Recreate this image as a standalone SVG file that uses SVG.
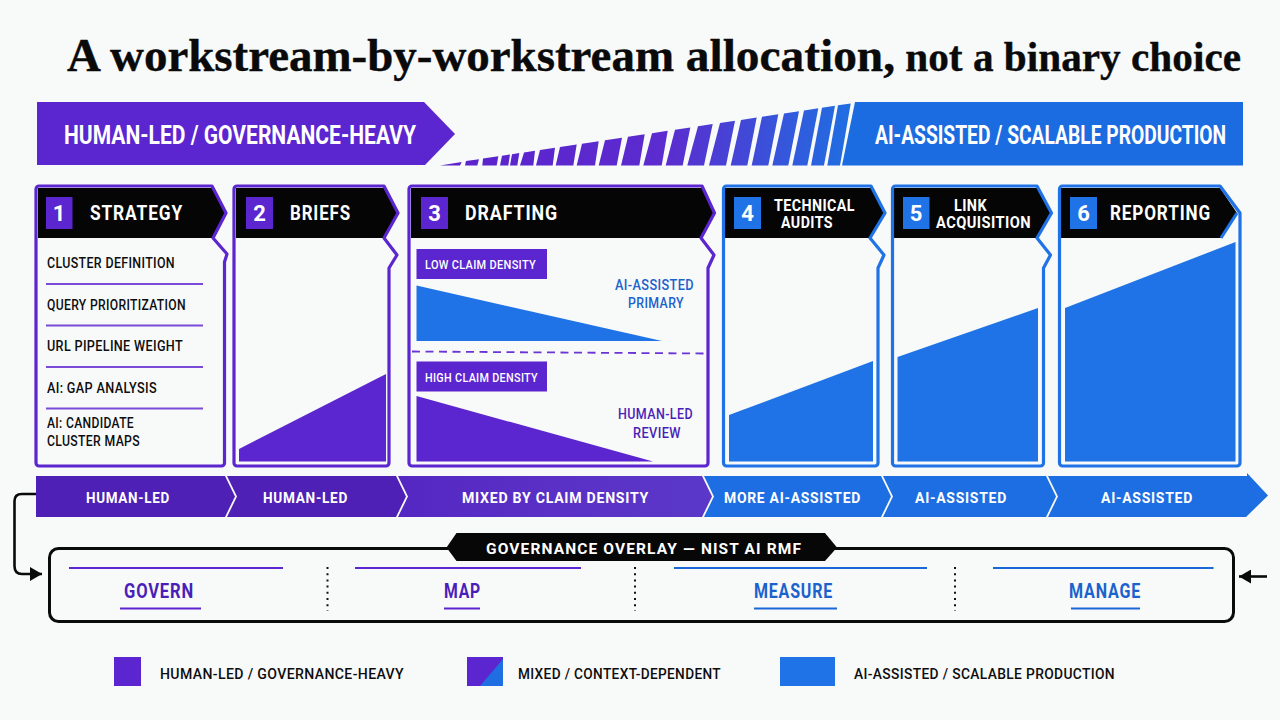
<svg xmlns="http://www.w3.org/2000/svg" width="1280" height="720" viewBox="0 0 1280 720">
<style>
text{font-family:Roboto,"Liberation Sans",sans-serif;font-weight:700}
.title{font-family:"Liberation Serif",serif;font-size:47px;fill:#0a0a0a;stroke:#0a0a0a;stroke-width:.4}
.ban{font-size:25px;fill:#fff}
.num{font-size:22px;fill:#fff;text-anchor:middle}
.hd{font-size:20px;fill:#fff;letter-spacing:1px}
.hd2{font-size:16.5px;fill:#fff;letter-spacing:.5px}
.item{font-size:14.5px;fill:#0d0d0d;font-weight:500;letter-spacing:.4px}
.tag{font-size:13.5px;fill:#fff;font-weight:500;letter-spacing:.4px}
.side{font-size:15.5px;font-weight:500;letter-spacing:.5px}
.st{font-size:15.5px;fill:#fff;letter-spacing:.8px}
.ov{font-size:15.5px;fill:#fff}
.fn{font-size:20px;letter-spacing:1px}
.lg{font-size:15.5px;fill:#0d0d0d;font-weight:500;letter-spacing:.4px}
.p{fill:#5b25cf}.b{fill:#1f73e6}
.pt{fill:#4a1fb8}.bt{fill:#1a62cc}
.cp{fill:none;stroke:#5b25cf;stroke-width:3.2;stroke-linejoin:round}
.cb{fill:none;stroke:#1f73e6;stroke-width:3.2;stroke-linejoin:round}
.head{fill:#050505}
.div{stroke:#7a4bd8;stroke-width:1.8}
.lp{stroke:#5b25cf;stroke-width:2.2}
.lb{stroke:#1a68d8;stroke-width:2.2}
.dot{stroke:#111;stroke-width:2;stroke-dasharray:2 4.2}
.conn{fill:none;stroke:#0a0a0a;stroke-width:2.6;stroke-linejoin:round}
</style>
<defs>
<linearGradient id="ramp" gradientUnits="userSpaceOnUse" x1="440" y1="0" x2="852" y2="0"><stop offset="0" stop-color="#5b22cc"/><stop offset=".55" stop-color="#5b2ccf"/><stop offset="1" stop-color="#1f6fe2"/></linearGradient>
<linearGradient id="mix" gradientUnits="userSpaceOnUse" x1="396" y1="0" x2="712" y2="0"><stop offset="0" stop-color="#5427c2"/><stop offset=".5" stop-color="#5a30c6"/><stop offset="1" stop-color="#5a38c8"/></linearGradient>
<marker id="arr" markerUnits="userSpaceOnUse" markerWidth="13" markerHeight="14" refX="12" refY="7" orient="auto"><path d="M0,0L12,7L0,14Z" fill="#0a0a0a"/></marker>
</defs>
<rect width="1280" height="720" fill="#f8f9f9"/>
<text class="title" y="71"><tspan x="67" textLength="607" lengthAdjust="spacingAndGlyphs">A workstream-by-workstream</tspan><tspan x="674" textLength="221" lengthAdjust="spacingAndGlyphs"> allocation,</tspan><tspan x="895" textLength="346" lengthAdjust="spacingAndGlyphs" style="font-size:43px"> not a binary choice</tspan></text>

<g id="banner-human"><path class="p" d="M37,102H424L455,134L425,165H37Z"/><text class="ban" transform="translate(64,144) scale(.8,1)" textLength="440" lengthAdjust="spacingAndGlyphs">HUMAN-LED / GOVERNANCE-HEAVY</text></g>
<g id="banner-ramp" fill="url(#ramp)">
<path d="M440,165.5H460L461.7,162Z"/><path d="M465,165.5H477.3L479,159.2L466,161.1Z"/><path d="M482.3,165.5H496.7L498.3,156.3L483,158.6Z"/><path d="M500,165.5H508.3L510,154.5L502,155.7Z"/><path d="M510,165.5H517.3L519.3,153.1L512,154.2Z"/><path d="M520,165.5H533.3L535,150.8L524,152.4Z"/><path d="M536,165.5H552.7L555,147.8L540,150Z"/><path d="M555.7,165.5H573.3L576.7,144.5L560,147Z"/><path d="M576.7,165.5H595L598.7,141.2L582,143.7Z"/><path d="M598.7,165.5H616.7L622,137.7L605,140.3Z"/><path d="M621,165.5H639.3L644.7,134.3L628,136.8Z"/><path d="M643.3,165.5H661.7L667.7,130.8L652,133.2Z"/><path d="M665.7,165.5H682.7L690.3,127.5L675,129.8Z"/><path d="M687.3,165.5H704L712.7,124.1L698,126.3Z"/><path d="M709,165.5H726L735,120.8L720,123Z"/><path d="M730.7,165.5H747.3L756.7,117.5L741,119.9Z"/><path d="M751.7,165.5H768.3L778.3,114.3L762,116.7Z"/><path d="M772.3,165.5H788.3L799,111.2L784,113.4Z"/><path d="M792.3,165.5H807.3L818.3,108.3L804,110.4Z"/><path d="M811,165.5H824L835,105.8L822,107.7Z"/><path d="M827.3,165.5H840L850.7,103.4L838,105.3Z"/>
</g>
<g id="banner-ai"><path style="fill:#1b6ce0" d="M842,165.5L855,102H1243V165.5Z"/><text class="ban" transform="translate(875,144) scale(.77,1)" textLength="456" lengthAdjust="spacingAndGlyphs">AI-ASSISTED / SCALABLE PRODUCTION</text></g>

<g id="card-1">
<path class="head" d="M38,188H212L226,213L213,238H38Z"/>
<path class="cp" d="M39,186H212L226,213L213,238L227,254L224.500,262V463a3,3 0 0 1-3,3H39a3,3 0 0 1-3-3V189a3,3 0 0 1 3-3Z"/>
<rect class="p" x="46" y="197" width="26.500" height="32"/><text class="num" x="59" y="221">1</text>
<text class="hd" x="90" y="220" textLength="93" lengthAdjust="spacingAndGlyphs">STRATEGY</text>
<text class="item" x="47" y="268" textLength="128" lengthAdjust="spacingAndGlyphs">CLUSTER DEFINITION</text><line class="div" x1="46" y1="284" x2="203" y2="284"/>
<text class="item" x="47" y="310" textLength="139" lengthAdjust="spacingAndGlyphs">QUERY PRIORITIZATION</text><line class="div" x1="46" y1="325.500" x2="203" y2="325.500"/>
<text class="item" x="47" y="351" textLength="136" lengthAdjust="spacingAndGlyphs">URL PIPELINE WEIGHT</text><line class="div" x1="46" y1="367" x2="203" y2="367"/>
<text class="item" x="47" y="393" textLength="110" lengthAdjust="spacingAndGlyphs">AI: GAP ANALYSIS</text><line class="div" x1="46" y1="408.500" x2="203" y2="408.500"/>
<text class="item" x="47" y="428" textLength="87" lengthAdjust="spacingAndGlyphs">AI: CANDIDATE</text>
<text class="item" x="47" y="446" textLength="93" lengthAdjust="spacingAndGlyphs">CLUSTER MAPS</text>
</g>
<g id="card-2">
<path class="head" d="M236,188H384L398,213L384,238H236Z"/>
<path class="cp" d="M237,186H384L398,213L384,238L397,255L389,268V463a3,3 0 0 1-3,3H237a3,3 0 0 1-3-3V189a3,3 0 0 1 3-3Z"/>
<rect class="p" x="246" y="197" width="27" height="32"/><text class="num" x="259.500" y="221">2</text>
<text class="hd" x="290" y="220" textLength="61" lengthAdjust="spacingAndGlyphs">BRIEFS</text>
<path class="p" d="M239,461.500V449L386,374V461.500Z"/>
</g>
<g id="card-3">
<path class="head" d="M411,188H702L714.500,213L701,238H411Z"/>
<path class="cp" d="M412,186H702L714.500,213L701,238L714,255L708,268V463a3,3 0 0 1-3,3H412a3,3 0 0 1-3-3V189a3,3 0 0 1 3-3Z"/>
<rect class="p" x="421" y="197" width="27" height="32"/><text class="num" x="434.500" y="221">3</text>
<text class="hd" x="465" y="220" textLength="93" lengthAdjust="spacingAndGlyphs">DRAFTING</text>
<rect class="p" x="416.500" y="249" width="130.500" height="30"/><text class="tag" x="425" y="269" textLength="111" lengthAdjust="spacingAndGlyphs">LOW CLAIM DENSITY</text>
<path class="b" d="M416.500,285.500L662,341H416.500Z"/>
<text class="side bt" x="615" y="289.500" textLength="79" lengthAdjust="spacingAndGlyphs">AI-ASSISTED</text>
<text class="side bt" x="628" y="307.500" textLength="56" lengthAdjust="spacingAndGlyphs">PRIMARY</text>
<line x1="412" y1="351.500" x2="707" y2="353.500" stroke="#6a35d4" stroke-width="1.800" stroke-dasharray="8 5.500"/>
<rect class="p" x="416.500" y="361.500" width="130.500" height="30"/><text class="tag" x="425" y="382" textLength="113" lengthAdjust="spacingAndGlyphs">HIGH CLAIM DENSITY</text>
<path class="p" d="M416.500,396L653,461.500H416.500Z"/>
<text class="side pt" x="618" y="418.500" textLength="75" lengthAdjust="spacingAndGlyphs">HUMAN-LED</text>
<text class="side pt" x="633" y="437.500" textLength="48" lengthAdjust="spacingAndGlyphs">REVIEW</text>
</g>
<g id="card-4">
<path class="head" d="M725,188H871L885,213L870,238H725Z"/>
<path class="cb" d="M726.500,186H871L885,213L870,238L884,255L878,268V463a3,3 0 0 1-3,3H726.500a3,3 0 0 1-3-3V189a3,3 0 0 1 3-3Z"/>
<rect class="b" x="734" y="197" width="27" height="32"/><text class="num" x="747.500" y="221">4</text>
<text class="hd2"><tspan x="774" y="211" textLength="81" lengthAdjust="spacingAndGlyphs">TECHNICAL</tspan><tspan x="781" y="228" textLength="52" lengthAdjust="spacingAndGlyphs">AUDITS</tspan></text>
<path class="b" d="M729,461.500V415L873,361V461.500Z"/>
</g>
<g id="card-5">
<path class="head" d="M894,188H1037L1051.500,213L1037,238H894Z"/>
<path class="cb" d="M895.500,186H1037L1051.500,213L1037,238L1050.500,255L1043.500,268V463a3,3 0 0 1-3,3H895.500a3,3 0 0 1-3-3V189a3,3 0 0 1 3-3Z"/>
<rect class="b" x="903" y="197" width="26.500" height="32"/><text class="num" x="916" y="221">5</text>
<text class="hd2"><tspan x="954" y="211" textLength="33" lengthAdjust="spacingAndGlyphs">LINK</tspan><tspan x="936" y="228" textLength="95" lengthAdjust="spacingAndGlyphs">ACQUISITION</tspan></text>
<path class="b" d="M897.500,461.500V357L1038,308V461.500Z"/>
</g>
<g id="card-6">
<path class="head" d="M1061,188H1220L1237,213L1221,238H1061Z"/>
<path class="cb" d="M1062.500,186H1220L1240,213V463a3,3 0 0 1-3,3H1062.500a3,3 0 0 1-3-3V189a3,3 0 0 1 3-3Z"/>
<path class="cb" d="M1237,213L1221,238"/>
<rect class="b" x="1070" y="197" width="27" height="32"/><text class="num" x="1083.500" y="221">6</text>
<text class="hd" x="1110" y="220" textLength="101" lengthAdjust="spacingAndGlyphs">REPORTING</text>
<path class="b" d="M1065,461.500V308L1235.500,242V461.500Z"/>
</g>

<g id="stage-strip">
<path fill="#4e20b5" d="M36,476H225L235,496.500L225,517H36Z"/>
<path fill="#4e20b5" d="M227,476H396L406,496.500L396,517H227L237,496.500Z"/>
<path fill="url(#mix)" d="M398,476H702L712,496.500L702,517H398L408,496.500Z"/>
<path fill="#1c6ee2" d="M704,476H881L891,496.500L881,517H704L714,496.500Z"/>
<path fill="#1c6ee2" d="M883,476H1046L1056,496.500L1046,517H883L893,496.500Z"/>
<path fill="#1c6ee2" d="M1048,476H1247V473L1268,495.500L1246,517H1048L1058,496.500Z"/>
<text class="st" x="86" y="502.500" textLength="84" lengthAdjust="spacingAndGlyphs">HUMAN-LED</text>
<text class="st" x="263" y="502.500" textLength="85" lengthAdjust="spacingAndGlyphs">HUMAN-LED</text>
<text class="st" x="462" y="502.500" textLength="187" lengthAdjust="spacingAndGlyphs">MIXED BY CLAIM DENSITY</text>
<text class="st" x="724" y="502.500" textLength="137" lengthAdjust="spacingAndGlyphs">MORE AI-ASSISTED</text>
<text class="st" x="915" y="502.500" textLength="92" lengthAdjust="spacingAndGlyphs">AI-ASSISTED</text>
<text class="st" x="1101" y="502.500" textLength="92" lengthAdjust="spacingAndGlyphs">AI-ASSISTED</text>
</g>

<g id="connectors">
<path class="conn" marker-end="url(#arr)" d="M36,494H22Q14.500,494 14.500,501V566Q14.500,574 22,574H42"/>
<path class="conn" marker-end="url(#arr)" d="M1267,576.500H1239"/>
</g>

<g id="overlay">
<rect x="49.500" y="548.500" width="1184" height="73" rx="9" fill="none" stroke="#0a0a0a" stroke-width="3"/>
<path fill="#070707" d="M446.500,547.500L456.500,533H825L837,547.500L825,561H456.500Z"/>
<text class="ov" x="486" y="553.500" textLength="315" lengthAdjust="spacing">GOVERNANCE OVERLAY — NIST AI RMF</text>
</g>
<g id="govern"><line class="lp" x1="69" y1="568" x2="283" y2="568"/><text class="fn pt" x="124" y="598" textLength="70" lengthAdjust="spacingAndGlyphs">GOVERN</text><line class="lp" x1="120" y1="608.500" x2="201" y2="608.500"/></g>
<g id="map"><line class="lp" x1="355" y1="568" x2="581" y2="568"/><text class="fn pt" x="444" y="598" textLength="37" lengthAdjust="spacingAndGlyphs">MAP</text><line class="lp" x1="444" y1="608.500" x2="480" y2="608.500"/></g>
<g id="measure"><line class="lb" x1="674" y1="568" x2="927" y2="568"/><text class="fn bt" x="754" y="598" textLength="79" lengthAdjust="spacingAndGlyphs">MEASURE</text><line class="lb" x1="754" y1="608.500" x2="837" y2="608.500"/></g>
<g id="manage"><line class="lb" x1="993" y1="568" x2="1213.500" y2="568"/><text class="fn bt" x="1069" y="598" textLength="72" lengthAdjust="spacingAndGlyphs">MANAGE</text><line class="lb" x1="1071" y1="608.500" x2="1140" y2="608.500"/></g>
<g id="dividers"><line class="dot" x1="327.500" y1="567" x2="327.500" y2="611"/><line class="dot" x1="635" y1="567" x2="635" y2="611"/><line class="dot" x1="955" y1="567" x2="955" y2="611"/></g>

<g id="legend">
<rect class="p" x="114" y="657" width="27" height="29"/><text class="lg" x="160" y="678.500" textLength="244" lengthAdjust="spacingAndGlyphs">HUMAN-LED / GOVERNANCE-HEAVY</text>
<rect class="p" x="467" y="657" width="36" height="29"/><path style="fill:#1f6fe2" d="M480,686L503,659V686Z"/><text class="lg" x="518" y="678.500" textLength="203" lengthAdjust="spacingAndGlyphs">MIXED / CONTEXT-DEPENDENT</text>
<rect class="b" x="780" y="657" width="55" height="29"/><text class="lg" x="854" y="678.500" textLength="261" lengthAdjust="spacingAndGlyphs">AI-ASSISTED / SCALABLE PRODUCTION</text>
</g>
</svg>
